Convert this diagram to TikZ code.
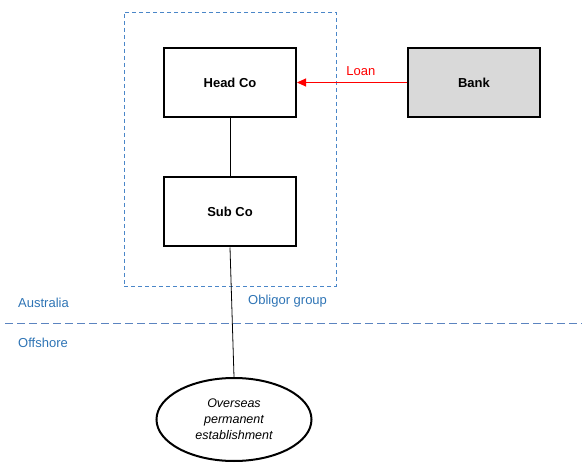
\documentclass[tikz,border=0pt]{standalone}
\usepackage{fontspec}
\setmainfont{Liberation Sans}
\usetikzlibrary{shapes.geometric,arrows.meta}
\definecolor{grpblue}{HTML}{4A86C8}
\definecolor{txtblue}{HTML}{2E74B5}
\definecolor{lineblue}{HTML}{5B84C0}
\definecolor{bankgray}{HTML}{D9D9D9}
\definecolor{loanred}{HTML}{FF0000}
\begin{document}
\begin{tikzpicture}[x=1pt,y=-1pt,
  every node/.style={font=\fontsize{13}{16}\selectfont},
  entity/.style={draw=black,line width=2pt,rectangle,minimum width=132pt,minimum height=69pt,inner sep=0pt,font=\fontsize{13}{16}\selectfont\bfseries},
  bluelabel/.style={text=txtblue,anchor=base west,inner sep=0pt},
  link/.style={draw=black,line width=0.8pt}]
\useasboundingbox (0,0) rectangle (587,468);
\node[draw=grpblue,dash pattern=on 4pt off 3pt,line width=0.8pt,rectangle,minimum width=212pt,minimum height=274pt,inner sep=0pt] (group) at (230,149) {};
\node[entity] (head) at (230,82.5) {Head Co};
\node[entity,fill=bankgray] (bank) at (474,82.5) {Bank};
\node[entity] (sub) at (230,212) {Sub Co};
\node[draw=black,line width=2pt,ellipse,minimum width=155pt,minimum height=83pt,inner sep=0pt,align=center,font=\fontsize{12.5}{16}\selectfont\itshape] (pe) at (234,419.5) {Overseas\\permanent\\establishment};
\draw[loanred,line width=0.9pt,-{Triangle[length=9pt,width=8pt]}] (bank.west) -- (head.east) node[pos=0.42,above=3pt,text=loanred] (loan) {Loan};
\draw[link] (head.south) -- (sub.north);
\draw[link] (sub.south) -- (pe.north);
\coordinate (bl) at (5,323);
\coordinate (br) at (582,323);
\draw[lineblue,line width=0.9pt,dash pattern=on 8pt off 4pt] (bl) -- (br);
\node[bluelabel] (aus) at (18,307) {Australia};
\node[bluelabel] (off) at (18,347) {Offshore};
\node[bluelabel] (obl) at (248,304) {Obligor group};
\end{tikzpicture}
\end{document}
